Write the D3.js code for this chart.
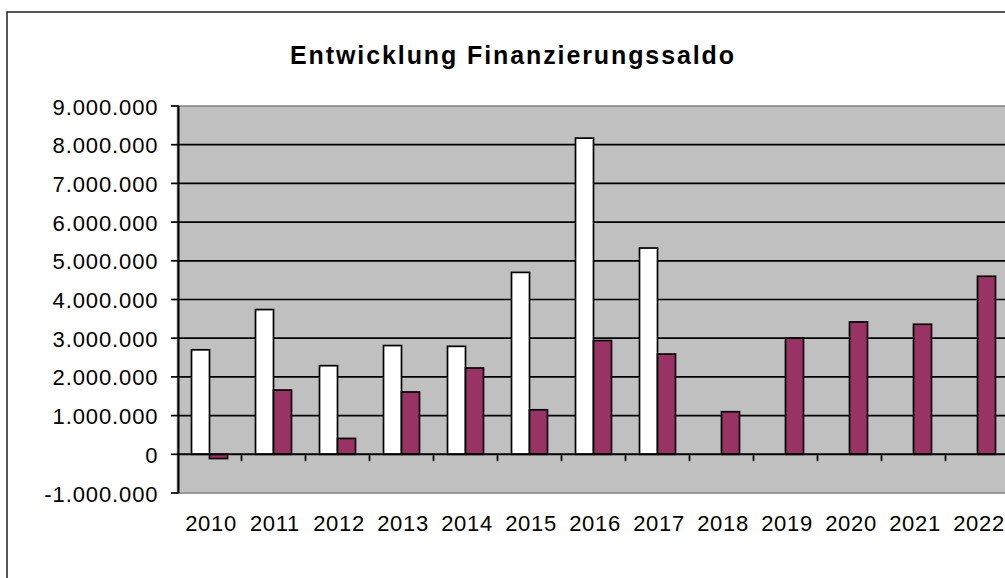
<!DOCTYPE html>
<html>
<head>
<meta charset="utf-8">
<script src="https://cdn.jsdelivr.net/npm/d3@7"></script>
<style>
  body { margin: 0; background: #fff; }
  svg { display: block; font-family: "Liberation Sans", Arial, sans-serif; }
</style>
</head>
<body>
<svg id="chart" width="1005" height="578"></svg>
<script>
var years = ["2010", "2011", "2012", "2013", "2014", "2015", "2016", "2017", "2018", "2019", "2020", "2021", "2022"];
var seriesWhite = [2700000, 3740000, 2290000, 2810000, 2790000, 4700000, 8170000, 5330000, null, null, null, null, null];
var seriesPurple = [-110000, 1660000, 410000, 1610000, 2230000, 1150000, 2940000, 2590000, 1100000, 3000000, 3420000, 3360000, 4600000];
var yTicks = [-1000000, 0, 1000000, 2000000, 3000000, 4000000, 5000000, 6000000, 7000000, 8000000, 9000000];
var seriesColors = ["#ffffff", "#993366"];

var svg = d3.select("#chart");

var de = d3.formatLocale({ decimal: ",", thousands: ".", grouping: [3], currency: ["", " €"], minus: "-" });
var fmt = de.format(",d");

var plotLeft = 177.5, plotTop = 106, plotBottom = 493;
var step = 64;

// outer frame (runs off the canvas on the right and bottom)
svg.append("rect")
    .attr("x", 7).attr("y", 12)
    .attr("width", 1100).attr("height", 700)
    .attr("fill", "none")
    .attr("stroke", "#222")
    .attr("stroke-width", 1.5);

svg.append("text")
    .attr("x", 513)
    .attr("y", 64)
    .attr("text-anchor", "middle")
    .attr("font-size", 25)
    .attr("font-weight", "bold")
    .attr("letter-spacing", 1.9)
    .text("Entwicklung Finanzierungssaldo");

var x = d3.scaleBand()
    .domain(years)
    .range([plotLeft, plotLeft + step * years.length])
    .paddingInner(0.4375)
    .paddingOuter(0.21875);

var xSub = d3.scaleBand()
    .domain([0, 1])
    .range([0, x.bandwidth()]);

var y = d3.scaleLinear()
    .domain([-1000000, 9000000])
    .range([plotBottom, plotTop]);

// plot area
svg.append("rect")
    .attr("x", plotLeft).attr("y", plotTop)
    .attr("width", 1100).attr("height", plotBottom - plotTop)
    .attr("fill", "#c0c0c0")
    .attr("stroke", "#808080")
    .attr("stroke-width", 1.5);

// gridlines
svg.append("g")
    .selectAll("line")
    .data(yTicks.filter(function (d) { return d > -1000000 && d < 9000000 && d !== 0; }))
    .enter()
    .append("line")
    .attr("x1", plotLeft).attr("x2", 1005)
    .attr("y1", function (d) { return y(d); })
    .attr("y2", function (d) { return y(d); })
    .attr("stroke", "#000")
    .attr("stroke-width", 1.7);

// bars
var groups = svg.append("g")
    .selectAll("g")
    .data(years)
    .enter()
    .append("g")
    .attr("transform", function (d) { return "translate(" + x(d) + ",0)"; });

groups.selectAll("rect")
    .data(function (d, i) {
        return [seriesWhite[i], seriesPurple[i]].map(function (v, j) { return { v: v, j: j }; });
    })
    .enter()
    .filter(function (d) { return d.v !== null; })
    .append("rect")
    .attr("x", function (d) { return xSub(d.j); })
    .attr("width", xSub.bandwidth())
    .attr("y", function (d) { return y(Math.max(0, d.v)); })
    .attr("height", function (d) { return Math.abs(y(d.v) - y(0)); })
    .attr("fill", function (d) { return seriesColors[d.j]; })
    .attr("stroke", "#000")
    .attr("stroke-width", 1.7);

// category axis at zero
var xAxis = svg.append("g");
xAxis.append("line")
    .attr("x1", plotLeft).attr("x2", 1005)
    .attr("y1", y(0)).attr("y2", y(0))
    .attr("stroke", "#000")
    .attr("stroke-width", 2);
xAxis.selectAll(".tick")
    .data(years.slice(1))
    .enter()
    .append("line")
    .attr("x1", function (d) { return x(d) - x.step() * 0.4375 / 2; })
    .attr("x2", function (d) { return x(d) - x.step() * 0.4375 / 2; })
    .attr("y1", y(0)).attr("y2", y(0) + 7)
    .attr("stroke", "#000")
    .attr("stroke-width", 1.7);

xAxis.selectAll("text")
    .data(years)
    .enter()
    .append("text")
    .attr("x", function (d) { return x(d) + x.bandwidth() / 2 + 1.5; })
    .attr("y", 531)
    .attr("text-anchor", "middle")
    .attr("font-size", 22)
    .attr("letter-spacing", 0.7)
    .attr("fill", "#000")
    .text(function (d) { return d; });

// value axis
var yAxis = svg.append("g");
yAxis.append("line")
    .attr("x1", plotLeft + 1).attr("x2", plotLeft + 1)
    .attr("y1", plotTop).attr("y2", plotBottom)
    .attr("stroke", "#000")
    .attr("stroke-width", 2);
yAxis.selectAll(".tick")
    .data(yTicks)
    .enter()
    .append("line")
    .attr("x1", 171).attr("x2", plotLeft + 1)
    .attr("y1", function (d) { return y(d); })
    .attr("y2", function (d) { return y(d); })
    .attr("stroke", "#000")
    .attr("stroke-width", 1.7);
yAxis.selectAll("text")
    .data(yTicks)
    .enter()
    .append("text")
    .attr("x", 158.5)
    .attr("y", function (d) { return y(d) + 8.5; })
    .attr("text-anchor", "end")
    .attr("font-size", 22)
    .attr("letter-spacing", 0.9)
    .attr("fill", "#000")
    .text(function (d) { return fmt(d); });
</script>
</body>
</html>
